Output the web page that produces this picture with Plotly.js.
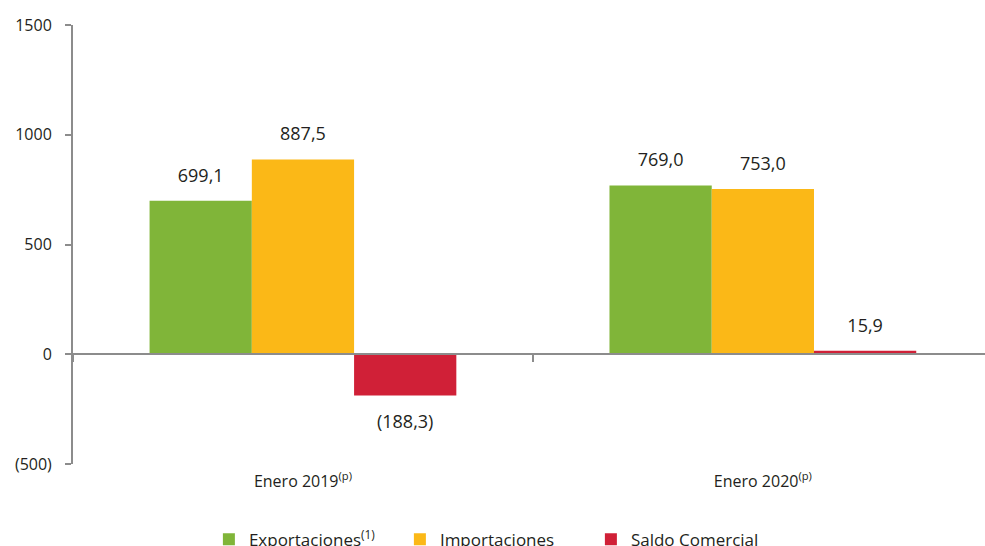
<!DOCTYPE html>
<html>
<head>
<meta charset="utf-8">
<script src="https://cdn.plot.ly/plotly-3.0.1.min.js"></script>
<style>html,body{margin:0;padding:0;background:#fff;}#chart{width:985px;height:546px;}</style>
</head>
<body>
<div id="chart"></div>
<script>
// Data
var categories = ["Enero 2019<sup>(p)</sup>", "Enero 2020<sup>(p)</sup>"];
var exportaciones = [699.1, 769.0];
var importaciones = [887.5, 753.0];
var saldo = [-188.3, 15.9];
var seriesNames = ["Exportaciones<sup>(1)</sup>", "Importaciones", "Saldo Comercial"];
var yTickVals = [-500, 0, 500, 1000, 1500];
var yTickText = ["(500)", "0", "500", "1000", "1500"];

var colors = ["#80B539", "#FBB817", "#D02037"];
var textColor = "#231F20";
var font = "Open Sans, Noto Sans, sans-serif";
var gap = 0.333;

function fmt(v) {
  var s = Math.abs(v).toFixed(1).replace(".", ",");
  return v < 0 ? "(" + s + ")" : s;
}

var seriesVals = [exportaciones, importaciones, saldo];
var traces = [];
seriesVals.forEach(function (vals, i) {
  traces.push({
    type: "bar",
    name: seriesNames[i],
    x: categories,
    y: vals,
    marker: { color: colors[i] },
    offsetgroup: "g" + i,
    hoverinfo: "none"
  });
});
// value labels, grouped like the bars
seriesVals.forEach(function (vals, i) {
  traces.push({
    type: "scatter",
    mode: "markers+text",
    x: categories,
    y: vals,
    text: vals.map(fmt),
    textposition: vals.map(function (v) { return v < 0 ? "bottom center" : "top center"; }),
    textfont: { family: font, size: 18, color: textColor },
    marker: { size: vals.map(function (v) { return v < 0 ? 28 : 22; }), opacity: 0 },
    offsetgroup: "g" + i,
    showlegend: false,
    cliponaxis: false,
    hoverinfo: "none"
  });
});
// helper trace carrying the zero-line axis
traces.push({
  type: "scatter", x: categories, y: [0, 0], xaxis: "x2", yaxis: "y",
  mode: "none", showlegend: false, hoverinfo: "none"
});

var xr = [-0.5, 1.483];
var layout = {
  width: 985, height: 546,
  margin: { l: 73, r: 0, t: 25, b: 82, autoexpand: false },
  paper_bgcolor: "#fff", plot_bgcolor: "#fff",
  barmode: "group",
  bargap: gap,
  bargroupgap: 0,
  scattermode: "group",
  scattergap: gap,
  font: { family: font, size: 16, color: textColor },
  xaxis: {
    type: "category", range: xr, showgrid: false, zeroline: false,
    showline: false, ticks: "outside", ticklen: 3, tickcolor: "rgba(0,0,0,0)",
    tickfont: { family: font, size: 16, color: textColor }
  },
  xaxis2: {
    type: "category", overlaying: "x", anchor: "free", position: 0.25,
    range: xr, showgrid: false, zeroline: false, showline: true,
    linecolor: "#8c8c8c", linewidth: 2, ticks: "outside", tickson: "boundaries",
    ticklen: 7, tickwidth: 2, tickcolor: "#8c8c8c", showticklabels: false,
    categoryarray: categories, categoryorder: "array"
  },
  yaxis: {
    range: [-500, 1500], tickvals: yTickVals, ticktext: yTickText,
    showgrid: false, zeroline: false, showline: true, linecolor: "#8c8c8c",
    linewidth: 2, ticks: "outside", ticklen: 6, tickwidth: 2, tickcolor: "#8c8c8c",
    ticklabelstandoff: 10,
    tickfont: { family: font, size: 16, color: textColor }
  },
  legend: {
    orientation: "h", x: 0.149, xanchor: "left", y: -0.1315, yanchor: "top",
    font: { family: font, size: 17, color: textColor },
    entrywidth: 146, entrywidthmode: "pixels", traceorder: "normal"
  },
  showlegend: true
};

Plotly.newPlot("chart", traces, layout, { displayModeBar: false, staticPlot: true });
</script>
</body>
</html>
